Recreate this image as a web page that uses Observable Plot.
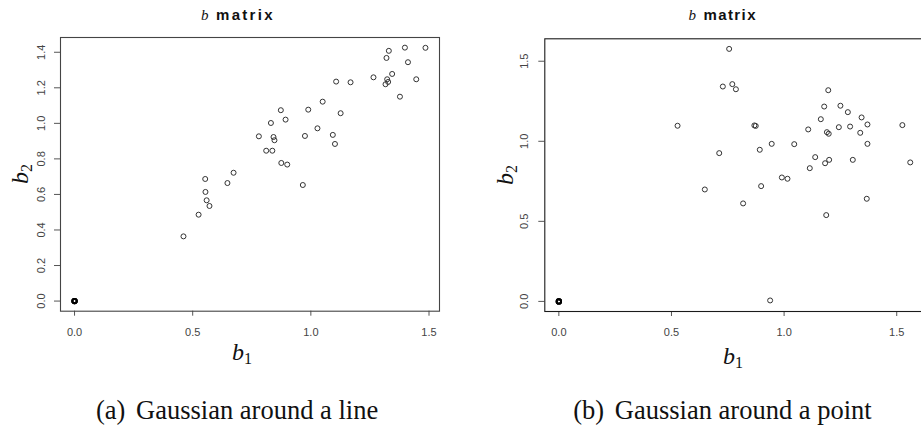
<!DOCTYPE html>
<html>
<head>
<meta charset="utf-8">
<script src="https://cdn.jsdelivr.net/npm/d3@7"></script>
<script src="https://cdn.jsdelivr.net/npm/@observablehq/plot@0.6"></script>
<style>
  html, body { margin: 0; padding: 0; background: #fff; }
  #wrap { position: relative; width: 921px; height: 426px; overflow: hidden; background: #fff; }
  .panel { position: absolute; top: 0; }
  #overlay { position: absolute; left: 0; top: 0; pointer-events: none; }
</style>
</head>
<body>
<div id="wrap">
  <div id="panelA" class="panel" style="left:0px;width:460px;"></div>
  <div id="panelB" class="panel" style="left:460px;width:470px;"></div>
  <svg id="overlay" width="921" height="426"></svg>
</div>
<script>
// ---------- data ----------
// (a) Gaussian around a line
const lineB1 = [1.398, 1.485, 1.330, 1.320, 1.411, 1.265, 1.323, 1.344, 1.327, 1.316,
                1.446, 1.377, 1.107, 1.168, 1.050, 0.989, 1.126, 0.873, 0.893, 0.831,
                1.028, 0.780, 0.975, 1.093, 1.102, 0.842, 0.846, 0.811, 0.837, 0.875,
                0.900, 0.966, 0.553, 0.647, 0.673, 0.554, 0.559, 0.571, 0.525, 0.461,
                0, 0, 0];
const lineB2 = [1.426, 1.425, 1.408, 1.368, 1.344, 1.259, 1.248, 1.278, 1.233, 1.220,
                1.248, 1.150, 1.235, 1.231, 1.122, 1.077, 1.057, 1.074, 1.021, 1.002,
                0.972, 0.927, 0.929, 0.935, 0.884, 0.923, 0.905, 0.846, 0.846, 0.777,
                0.768, 0.653, 0.687, 0.664, 0.722, 0.614, 0.567, 0.535, 0.486, 0.364,
                0, 0, 0];
// (b) Gaussian around a point
const pointB1 = [0.756, 0.728, 0.770, 0.786, 1.196, 0.527, 0.868, 0.874, 1.178, 1.250,
                 1.283, 1.163, 1.344, 1.107, 1.243, 1.293, 1.370, 1.525, 1.190, 1.198,
                 1.338, 0.945, 1.045, 1.370, 0.712, 0.892, 1.138, 1.182, 1.200, 1.305,
                 1.560, 1.114, 0.990, 1.015, 0.648, 0.898, 1.367, 0.818, 1.187, 0.938,
                 0, 0, 0];
const pointB2 = [1.577, 1.342, 1.357, 1.325, 1.319, 1.097, 1.099, 1.096, 1.217, 1.222,
                 1.182, 1.138, 1.149, 1.074, 1.088, 1.092, 1.105, 1.101, 1.057, 1.047,
                 1.053, 0.984, 0.982, 0.984, 0.926, 0.947, 0.901, 0.863, 0.884, 0.884,
                 0.868, 0.832, 0.774, 0.766, 0.699, 0.720, 0.641, 0.612, 0.539, 0.006,
                 0, 0, 0];

const xTicks = [0, 0.5, 1.0, 1.5];
const yTicksLine = [0, 0.2, 0.4, 0.6, 0.8, 1.0, 1.2, 1.4];
const yTicksPoint = [0, 0.5, 1.0, 1.5];

const panelTitle = "matrix";
const captions = ["(a)", "Gaussian around a line", "(b)", "Gaussian around a point"];

// ---------- helpers ----------
const fmt = d3.format(".1f");
const pad = ([lo, hi]) => [lo - (hi - lo) * 0.04, hi + (hi - lo) * 0.04];

function panel({b1, b2, yTicks, width, height, margins, ytickDx, frameColor}) {
  const data = b1.map((v, i) => ({b1: v, b2: b2[i]}));
  const isZero = d => d.b1 === 0 && d.b2 === 0;
  return Plot.plot({
    width, height, ...margins,
    style: {
      background: "transparent",
      fontFamily: "'Liberation Sans', Arial, Helvetica, sans-serif",
      fontSize: "11px",
      color: "#444",
      overflow: "visible",
      maxWidth: "none"
    },
    x: {domain: pad(d3.extent(b1)), label: null},
    y: {domain: pad(d3.extent(b2)), label: null},
    marks: [
      Plot.axisX({ticks: xTicks, tickSize: 5, tickPadding: 11.5, tickFormat: d => fmt(d), label: null, anchor: "bottom", stroke: "#555"}),
      Plot.axisY({ticks: yTicks, tickSize: 6, tickFormat: () => "", label: null, anchor: "left", stroke: "#555"}),
      Plot.text(yTicks, {
        y: d => d, text: d => fmt(d), frameAnchor: "left", dx: ytickDx,
        rotate: -90, textAnchor: "middle", lineAnchor: "middle", fill: "#444"
      }),
      Plot.frame({stroke: frameColor, strokeWidth: 1.1}),
      Plot.dot(data.filter(d => !isZero(d)), {x: "b1", y: "b2", r: 2.5, stroke: "#333", strokeWidth: 1}),
      Plot.dot(data.filter(isZero), {x: "b1", y: "b2", r: 2.2, stroke: "#000", strokeWidth: 1.9})
    ]
  });
}

document.getElementById("panelA").append(panel({
  b1: lineB1, b2: lineB2, yTicks: yTicksLine,
  width: 460, height: 345,
  margins: {marginLeft: 60, marginRight: 21, marginTop: 37, marginBottom: 34.3},
  ytickDx: -18.8, frameColor: "#444"
}));

document.getElementById("panelB").append(panel({
  b1: pointB1, b2: pointB2, yTicks: yTicksPoint,
  width: 470, height: 345,
  margins: {marginLeft: 84.3, marginRight: 6.2, marginTop: 38.3, marginBottom: 34},
  ytickDx: -20.5, frameColor: "#1a1a1a"
}));

// ---------- titles, axis labels, captions ----------
const ov = d3.select("#overlay");
const serif = "'Liberation Serif', 'Times New Roman', serif";
const sans = "'Liberation Sans', Arial, Helvetica, sans-serif";

function title(xb, xm, wm) {
  ov.append("text").attr("x", xb).attr("y", 20).attr("font-family", serif)
    .attr("font-style", "italic").attr("font-size", 15).attr("fill", "#111").text("b");
  ov.append("text").attr("x", xm).attr("y", 20).attr("font-family", sans)
    .attr("font-weight", "bold").attr("font-size", 15).attr("fill", "#111")
    .attr("textLength", wm).attr("lengthAdjust", "spacing").text(panelTitle);
}
title(201, 216, 56.5);
title(688.5, 703.5, 52);

function xlab(x, y, sub) {
  const t = ov.append("text").attr("x", x).attr("y", y).attr("text-anchor", "middle")
    .attr("font-family", serif).attr("font-size", 24).attr("fill", "#111");
  t.append("tspan").attr("font-style", "italic").text("b");
  t.append("tspan").attr("font-size", 16).attr("dy", 4).text(sub);
}
function ylab(x, y, sub) {
  const t = ov.append("text").attr("transform", `translate(${x},${y}) rotate(-90)`)
    .attr("text-anchor", "middle").attr("font-family", serif).attr("font-size", 24).attr("fill", "#111");
  t.append("tspan").attr("font-style", "italic").text("b");
  t.append("tspan").attr("font-size", 16).attr("dy", 4).text(sub);
}
xlab(242, 360, "1");
xlab(733, 364, "1");
ylab(28, 174, "2");
ylab(513, 175, "2");

function caption(x, a, b) {
  const t = ov.append("text").attr("x", x).attr("y", 418.5).attr("font-family", serif)
    .attr("font-size", 26.5).attr("fill", "#111");
  t.append("tspan").text(a);
  t.append("tspan").attr("dx", 4).text(" " + b);
}
caption(96, captions[0], captions[1]);
caption(573.3, captions[2], captions[3]);
</script>
</body>
</html>
